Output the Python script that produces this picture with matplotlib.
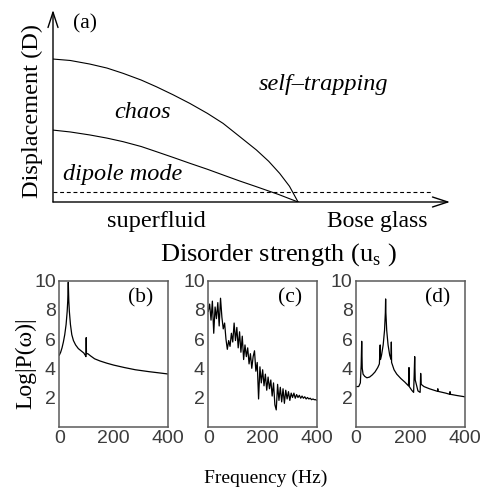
import matplotlib
matplotlib.use('Agg')
import matplotlib.pyplot as plt

plt.rcParams['mathtext.fontset'] = 'custom'
plt.rcParams['mathtext.rm'] = 'Liberation Serif'

W, H = 483, 487
SERIF = ['Liberation Serif', 'DejaVu Serif']

# (a) phase diagram: disorder strength u_s vs displacement D
u_upper = [0.0, 0.07, 0.15, 0.22, 0.286, 0.36, 0.422, 0.49, 0.558, 0.63, 0.694,
           0.76, 0.830, 0.88, 0.925, 0.965, 1.0]
d_upper = [1.0, 0.99, 0.965, 0.937, 0.90, 0.853, 0.806, 0.75, 0.690, 0.62, 0.550,
           0.46, 0.364, 0.285, 0.20, 0.11, 0.0]
u_lower = [0.0, 0.07, 0.15, 0.22, 0.286, 0.36, 0.422, 0.49, 0.558, 0.63, 0.694,
           0.76, 0.830, 0.92, 1.0]
d_lower = [0.503, 0.49, 0.469, 0.447, 0.422, 0.388, 0.352, 0.312, 0.271, 0.229,
           0.189, 0.148, 0.107, 0.053, 0.0]
d_dashed = 0.072
u_dashed_end = 1.547

# (b) regular spectrum
freq_b = [0, 5, 10, 15, 20, 25, 29, 31, 33, 35, 37, 41, 46, 52, 60, 70, 80, 90,
          97, 98, 99, 100, 105, 115, 130, 150, 175, 200, 240, 280, 330, 370, 400]
logp_b = [4.9, 5.1, 5.4, 5.8, 6.3, 7.0, 7.9, 8.6, 9.9, 8.6, 7.9, 7.0, 6.3, 5.9, 5.6,
          5.35, 5.2, 5.05, 4.85, 4.8, 6.1, 5.0, 5.0, 4.85, 4.65, 4.5, 4.35, 4.22,
          4.05, 3.9, 3.77, 3.68, 3.61]

# (c) chaotic spectrum, 5 Hz steps
freq_c = list(range(0, 401, 5))
logp_c = [7.9, 8.4, 7.3, 8.6, 6.4, 8.2, 7.4, 8.5, 6.9, 8.8,
          7.5, 6.7, 7.1, 6.0, 5.3, 5.9, 5.5, 6.4, 5.8, 7.1,
          5.9, 6.8, 5.4, 6.5, 5.1, 6.2, 4.6, 5.6, 4.8, 5.4,
          4.3, 5.0, 4.0, 4.8, 5.2, 3.8, 4.4, 1.9, 4.1, 3.0,
          3.9, 2.8, 3.6, 2.5, 3.4, 2.6, 3.2, 2.1, 3.0, 1.5,
          1.15, 2.9, 1.8, 2.7, 1.7, 2.6, 1.6, 2.5, 1.9, 2.4,
          1.8, 2.3, 2.0, 2.3, 1.95, 2.2, 2.0, 2.15, 1.95, 2.1,
          1.95, 2.05, 1.9, 2.0, 1.9, 1.95, 1.85, 1.9, 1.85, 1.85,
          1.8]

# (d) self-trapping spectrum
freq_d = [0, 10, 16, 19, 21, 23, 26, 32, 40, 50, 60, 70, 80, 86, 89, 90, 94, 100,
          105, 108, 109, 110, 113, 118, 124, 129, 130, 131, 140, 150, 165, 180,
          193, 195, 196, 205, 212, 214, 216, 218, 228, 236, 238, 240, 250, 270,
          300, 301, 302, 330, 345, 346, 347, 370, 400]
logp_d = [2.75, 2.75, 3.0, 4.2, 5.85, 4.0, 3.6, 3.45, 3.35, 3.4, 3.55, 3.75, 4.05,
          4.3, 5.6, 4.6, 4.9, 5.6, 6.6, 7.8, 8.75, 7.8, 6.6, 5.6, 4.9, 4.6, 5.8,
          4.4, 3.9, 3.6, 3.3, 3.05, 2.8, 4.05, 2.75, 2.5, 2.35, 3.5, 4.8, 3.2,
          2.45, 2.35, 3.65, 2.9, 2.75, 2.6, 2.42, 2.6, 2.42, 2.3, 2.22, 2.4, 2.22,
          2.14, 2.05]

x_ticks = [0, 200, 400]
y_ticks = [2, 4, 6, 8, 10]


def px(x, y):
    return x / W, 1 - y / H


fig = plt.figure(figsize=(W / 100, H / 100), dpi=100)

# ---- panel (a)
ax = fig.add_axes([53 / W, 1 - 202 / H, 397 / W, 192 / H])
ax.set_xlim(0, 1.62)
ax.set_ylim(0, 1.343)
ax.axis('off')
ax.plot(u_upper, d_upper, color='black', lw=0.8)
ax.plot(u_lower, d_lower, color='black', lw=0.8)
ax.plot([0, u_dashed_end], [d_dashed, d_dashed], color='black', lw=0.8,
        dashes=(3.5, 2.5))
arrow = dict(arrowstyle='->,head_length=1.1,head_width=0.36', lw=1.0,
             color='black', shrinkA=0, shrinkB=0, mutation_scale=10)
ax.annotate('', xy=(1.62, 0), xytext=(0, 0), arrowprops=arrow)
ax.annotate('', xy=(0, 1.343), xytext=(0, 0), arrowprops=arrow)

fig.text(*px(85, 28), '(a)', family=SERIF, fontsize=15.5, ha='center', va='baseline')
fig.text(*px(323, 90), 'self\u2013trapping', family=SERIF, style='italic',
         fontsize=17.5, ha='center', va='baseline')
fig.text(*px(143, 118), 'chaos', family=SERIF, style='italic', fontsize=17.5,
         ha='center', va='baseline')
fig.text(*px(123, 180), 'dipole mode', family=SERIF, style='italic', fontsize=17.5,
         ha='center', va='baseline')
fig.text(*px(156, 226.5), 'superfluid', family=SERIF, fontsize=17.5,
         ha='center', va='baseline')
fig.text(*px(377, 226.5), 'Bose glass', family=SERIF, fontsize=17,
         ha='center', va='baseline')
fig.text(*px(278, 260.5), r'Disorder strength (u$_{\rm s}$ )', family=SERIF,
         fontsize=19, ha='center', va='baseline')
fig.text(*px(32, 111), 'Displacement (D)', family=SERIF, fontsize=17.5,
         rotation=90, ha='center', va='center')

# ---- panels (b), (c), (d)
lefts = [59.3, 208.3, 356]
series = [(freq_b, logp_b, '(b)'), (freq_c, logp_c, '(c)'), (freq_d, logp_d, '(d)')]
for left, (f, p, lab) in zip(lefts, series):
    a = fig.add_axes([left / W, 1 - 426.7 / H, 108.7 / W, 146 / H])
    a.plot(f, p, color='black', lw=0.9)
    a.set_xlim(0, 400)
    a.set_ylim(0, 10)
    a.set_xticks(x_ticks)
    a.set_yticks(y_ticks)
    a.tick_params(length=0, pad=2.5, labelsize=14, labelcolor='#3c3c3c')
    for t in a.get_xticklabels() + a.get_yticklabels():
        t.set_family(['Liberation Sans', 'DejaVu Sans'])
    for s in a.spines.values():
        s.set_color('#5a5a5a')
        s.set_linewidth(1.1)
    a.text(0.75, 0.88, lab, transform=a.transAxes, family=SERIF, fontsize=15.5,
           ha='center', va='center')

fig.text(*px(26, 363), 'Log|P(\u03c9)|', family=SERIF, fontsize=17,
         rotation=90, ha='center', va='center')
fig.text(*px(266, 482.5), 'Frequency (Hz)', family=SERIF, fontsize=14,
         ha='center', va='baseline')

fig.savefig('out.png', dpi=100)
